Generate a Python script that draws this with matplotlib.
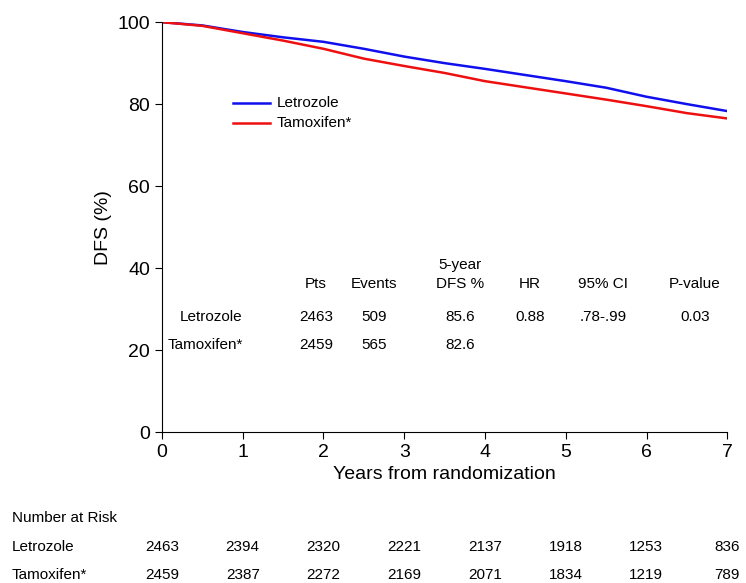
import matplotlib.pyplot as plt

plt.rcParams['font.family'] = ['Liberation Sans', 'DejaVu Sans']

years = [0, 0.5, 1, 1.5, 2, 2.5, 3, 3.5, 4, 4.5, 5, 5.5, 6, 6.5, 7]
letrozole = [100, 99.2, 97.6, 96.3, 95.2, 93.5, 91.6, 90.0, 88.6, 87.1, 85.6, 84.0, 81.8, 80.0, 78.3]
tamoxifen = [100, 99.1, 97.3, 95.5, 93.5, 91.1, 89.3, 87.6, 85.6, 84.1, 82.6, 81.1, 79.5, 77.8, 76.5]

risk_years = [0, 1, 2, 3, 4, 5, 6, 7]
risk_letrozole = [2463, 2394, 2320, 2221, 2137, 1918, 1253, 836]
risk_tamoxifen = [2459, 2387, 2272, 2169, 2071, 1834, 1219, 789]

fig = plt.figure(figsize=(7.46, 5.83), dpi=100)
ax = fig.add_axes([0.217, 0.259, 0.758, 0.703])
ax.plot(years, letrozole, color='#1010ee', lw=1.8)
ax.plot(years, tamoxifen, color='#ee1010', lw=1.8)
ax.set_xlim(0, 7)
ax.set_ylim(0, 100)
ax.set_xticks(range(8))
ax.set_yticks(range(0, 101, 20))
ax.tick_params(labelsize=14, direction='out', length=5)
for s in ['top', 'right']:
    ax.spines[s].set_visible(False)
ax.set_xlabel('Years from randomization', fontsize=14)
ax.set_ylabel('DFS (%)', fontsize=14)

# legend
ax.plot([0.88, 1.34], [80.2, 80.2], color='#1010ee', lw=1.8)
ax.plot([0.88, 1.34], [75.4, 75.4], color='#ee1010', lw=1.8)
ax.text(1.42, 80.2, 'Letrozole', fontsize=11, va='center')
ax.text(1.42, 75.4, 'Tamoxifen*', fontsize=11, va='center')

# stats table
cols = [1.91, 2.63, 3.69, 4.56, 5.46, 6.60]
heads = ['Pts', 'Events', '5-year\nDFS %', 'HR', '95% CI', 'P-value']
for x, h in zip(cols, heads):
    ax.text(x, 34.5, h, fontsize=11, ha='center', va='bottom', linespacing=1.4)
rows = [('Letrozole', ['2463', '509', '85.6', '0.88', '.78-.99', '0.03'], 28.0),
        ('Tamoxifen*', ['2459', '565', '82.6'], 21.2)]
for name, vals, y in rows:
    ax.text(1.0, y, name, fontsize=11, ha='right', va='center')
    for x, v in zip(cols, vals):
        ax.text(x, y, v, fontsize=11, ha='center', va='center')

# number at risk
fig.text(12 / 746, 1 - 518 / 583, 'Number at Risk', fontsize=11, va='center')
for label, vals, ypx in [('Letrozole', risk_letrozole, 547), ('Tamoxifen*', risk_tamoxifen, 575)]:
    fig.text(12 / 746, 1 - ypx / 583, label, fontsize=11, va='center')
    for yr, v in zip(risk_years, vals):
        xpx = 162 + yr * 565 / 7
        fig.text(xpx / 746, 1 - ypx / 583, str(v), fontsize=11, ha='center', va='center')

fig.savefig('out.png')
